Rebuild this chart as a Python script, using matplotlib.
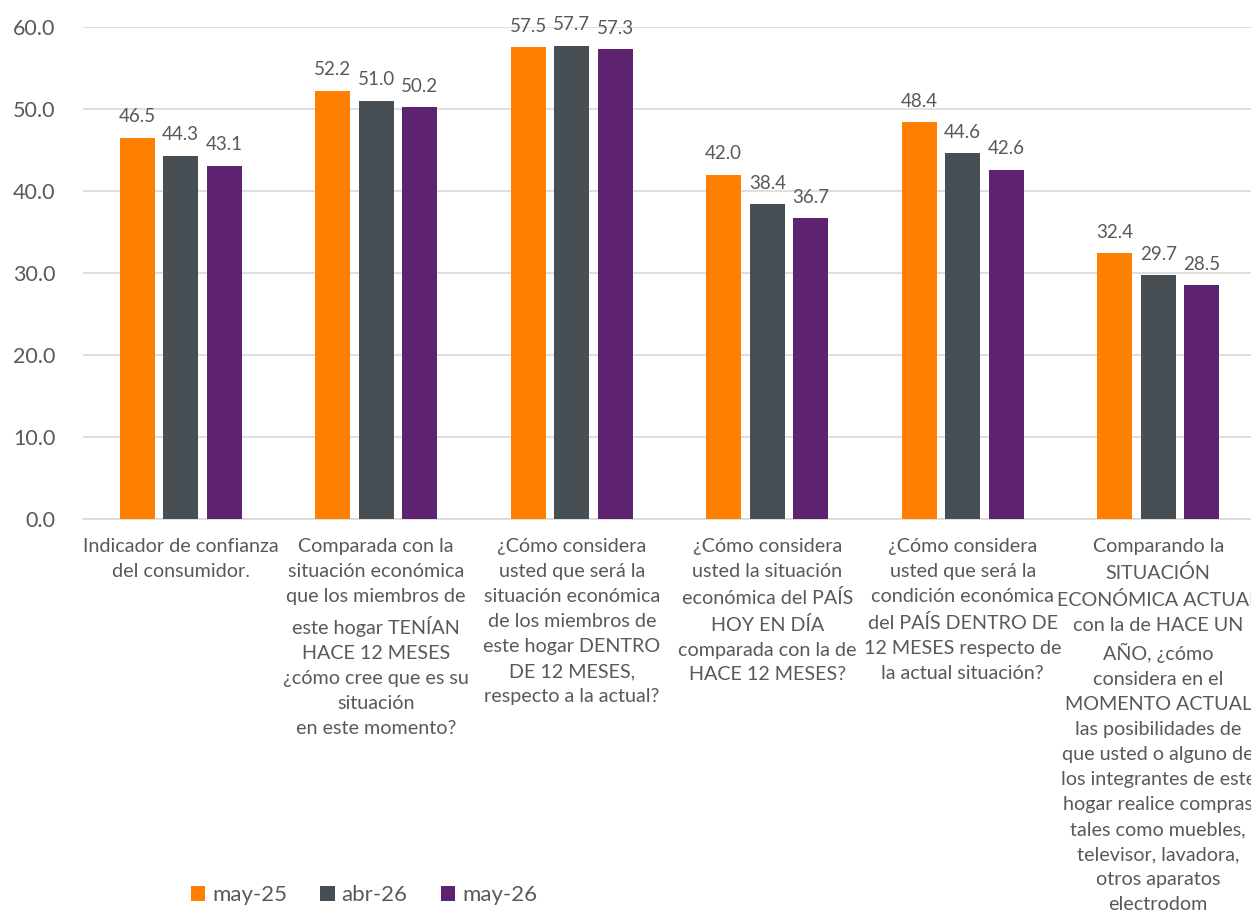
import matplotlib
matplotlib.use("Agg")
import matplotlib.pyplot as plt
import numpy as np
from matplotlib.patches import Patch

categories = [
    "Indicador de confianza\ndel consumidor.",
    "Comparada con la\nsituación económica\nque los miembros de\neste hogar TENÍAN\nHACE 12 MESES\n¿cómo cree que es su\nsituación\nen este momento?",
    "¿Cómo considera\nusted que será la\nsituación económica\nde los miembros de\neste hogar DENTRO\nDE 12 MESES,\nrespecto a la actual?",
    "¿Cómo considera\nusted la situación\neconómica del PAÍS\nHOY EN DÍA\ncomparada con la de\nHACE 12 MESES?",
    "¿Cómo considera\nusted que será la\ncondición económica\ndel PAÍS DENTRO DE\n12 MESES respecto de\nla actual situación?",
    "Comparando la\nSITUACIÓN\nECONÓMICA ACTUAL\ncon la de HACE UN\nAÑO, ¿cómo\nconsidera en el\nMOMENTO ACTUAL\nlas posibilidades de\nque usted o alguno de\nlos integrantes de este\nhogar realice compras\ntales como muebles,\ntelevisor, lavadora,\notros aparatos\nelectrodom",
]
series_names = ["may-25", "abr-26", "may-26"]
may25 = [46.5, 52.2, 57.5, 42.0, 48.4, 32.4]
abr26 = [44.3, 51.0, 57.7, 38.4, 44.6, 29.7]
may26 = [43.1, 50.2, 57.3, 36.7, 42.6, 28.5]
yticks = [0, 10, 20, 30, 40, 50, 60]

colors = ["#FF8000", "#474F55", "#5E2370"]
text_color = "#595959"
plt.rcParams['font.family'] = ['Lato', 'DejaVu Sans']

fig = plt.figure(figsize=(12.51, 9.21), dpi=100)
ax = fig.add_axes([83/1251, 402/921, 1173/1251, 492/921])

x = np.arange(len(categories))
step = 0.2225
width = 0.179
for i, (vals, c, name) in enumerate(zip([may25, abr26, may26], colors, series_names)):
    bars = ax.bar(x + (i - 1) * step, vals, width, color=c, label=name, zorder=3)
    for b, v in zip(bars, vals):
        ax.annotate(f"{v:.1f}", (b.get_x() + b.get_width() / 2, v),
                    xytext=(0, 9), textcoords="offset points",
                    ha="center", va="bottom", fontsize=13.5, color=text_color)

ax.set_xlim(-0.5, len(categories) - 0.5)
ax.set_ylim(0, 60)
ax.set_yticks(yticks)
ax.set_yticklabels([f"{t:.1f}" for t in yticks], fontsize=15.5, color=text_color)
ax.yaxis.grid(True, color="#D9D9D9", linewidth=1.2, zorder=0)
ax.tick_params(axis="y", length=0, pad=20)
ax.tick_params(axis="x", length=0, pad=14)
ax.set_xticks(x)
ax.set_xticklabels(categories, fontsize=14.2, color=text_color, linespacing=1.57)
for s in ["left", "right", "top"]:
    ax.spines[s].set_visible(False)
ax.spines["bottom"].set_color("#D9D9D9")
ax.spines["bottom"].set_linewidth(1.2)

handles = [Patch(facecolor=c, label=n) for c, n in zip(colors, series_names)]
fig.legend(handles=handles, loc="center left", bbox_to_anchor=(191/1251, 26/921),
           ncol=3, frameon=False, fontsize=16, handlelength=0.65, handleheight=0.65,
           handletextpad=0.3, columnspacing=1.5, borderpad=0, borderaxespad=0,
           labelcolor=text_color)

fig.savefig("out.png", dpi=100)
